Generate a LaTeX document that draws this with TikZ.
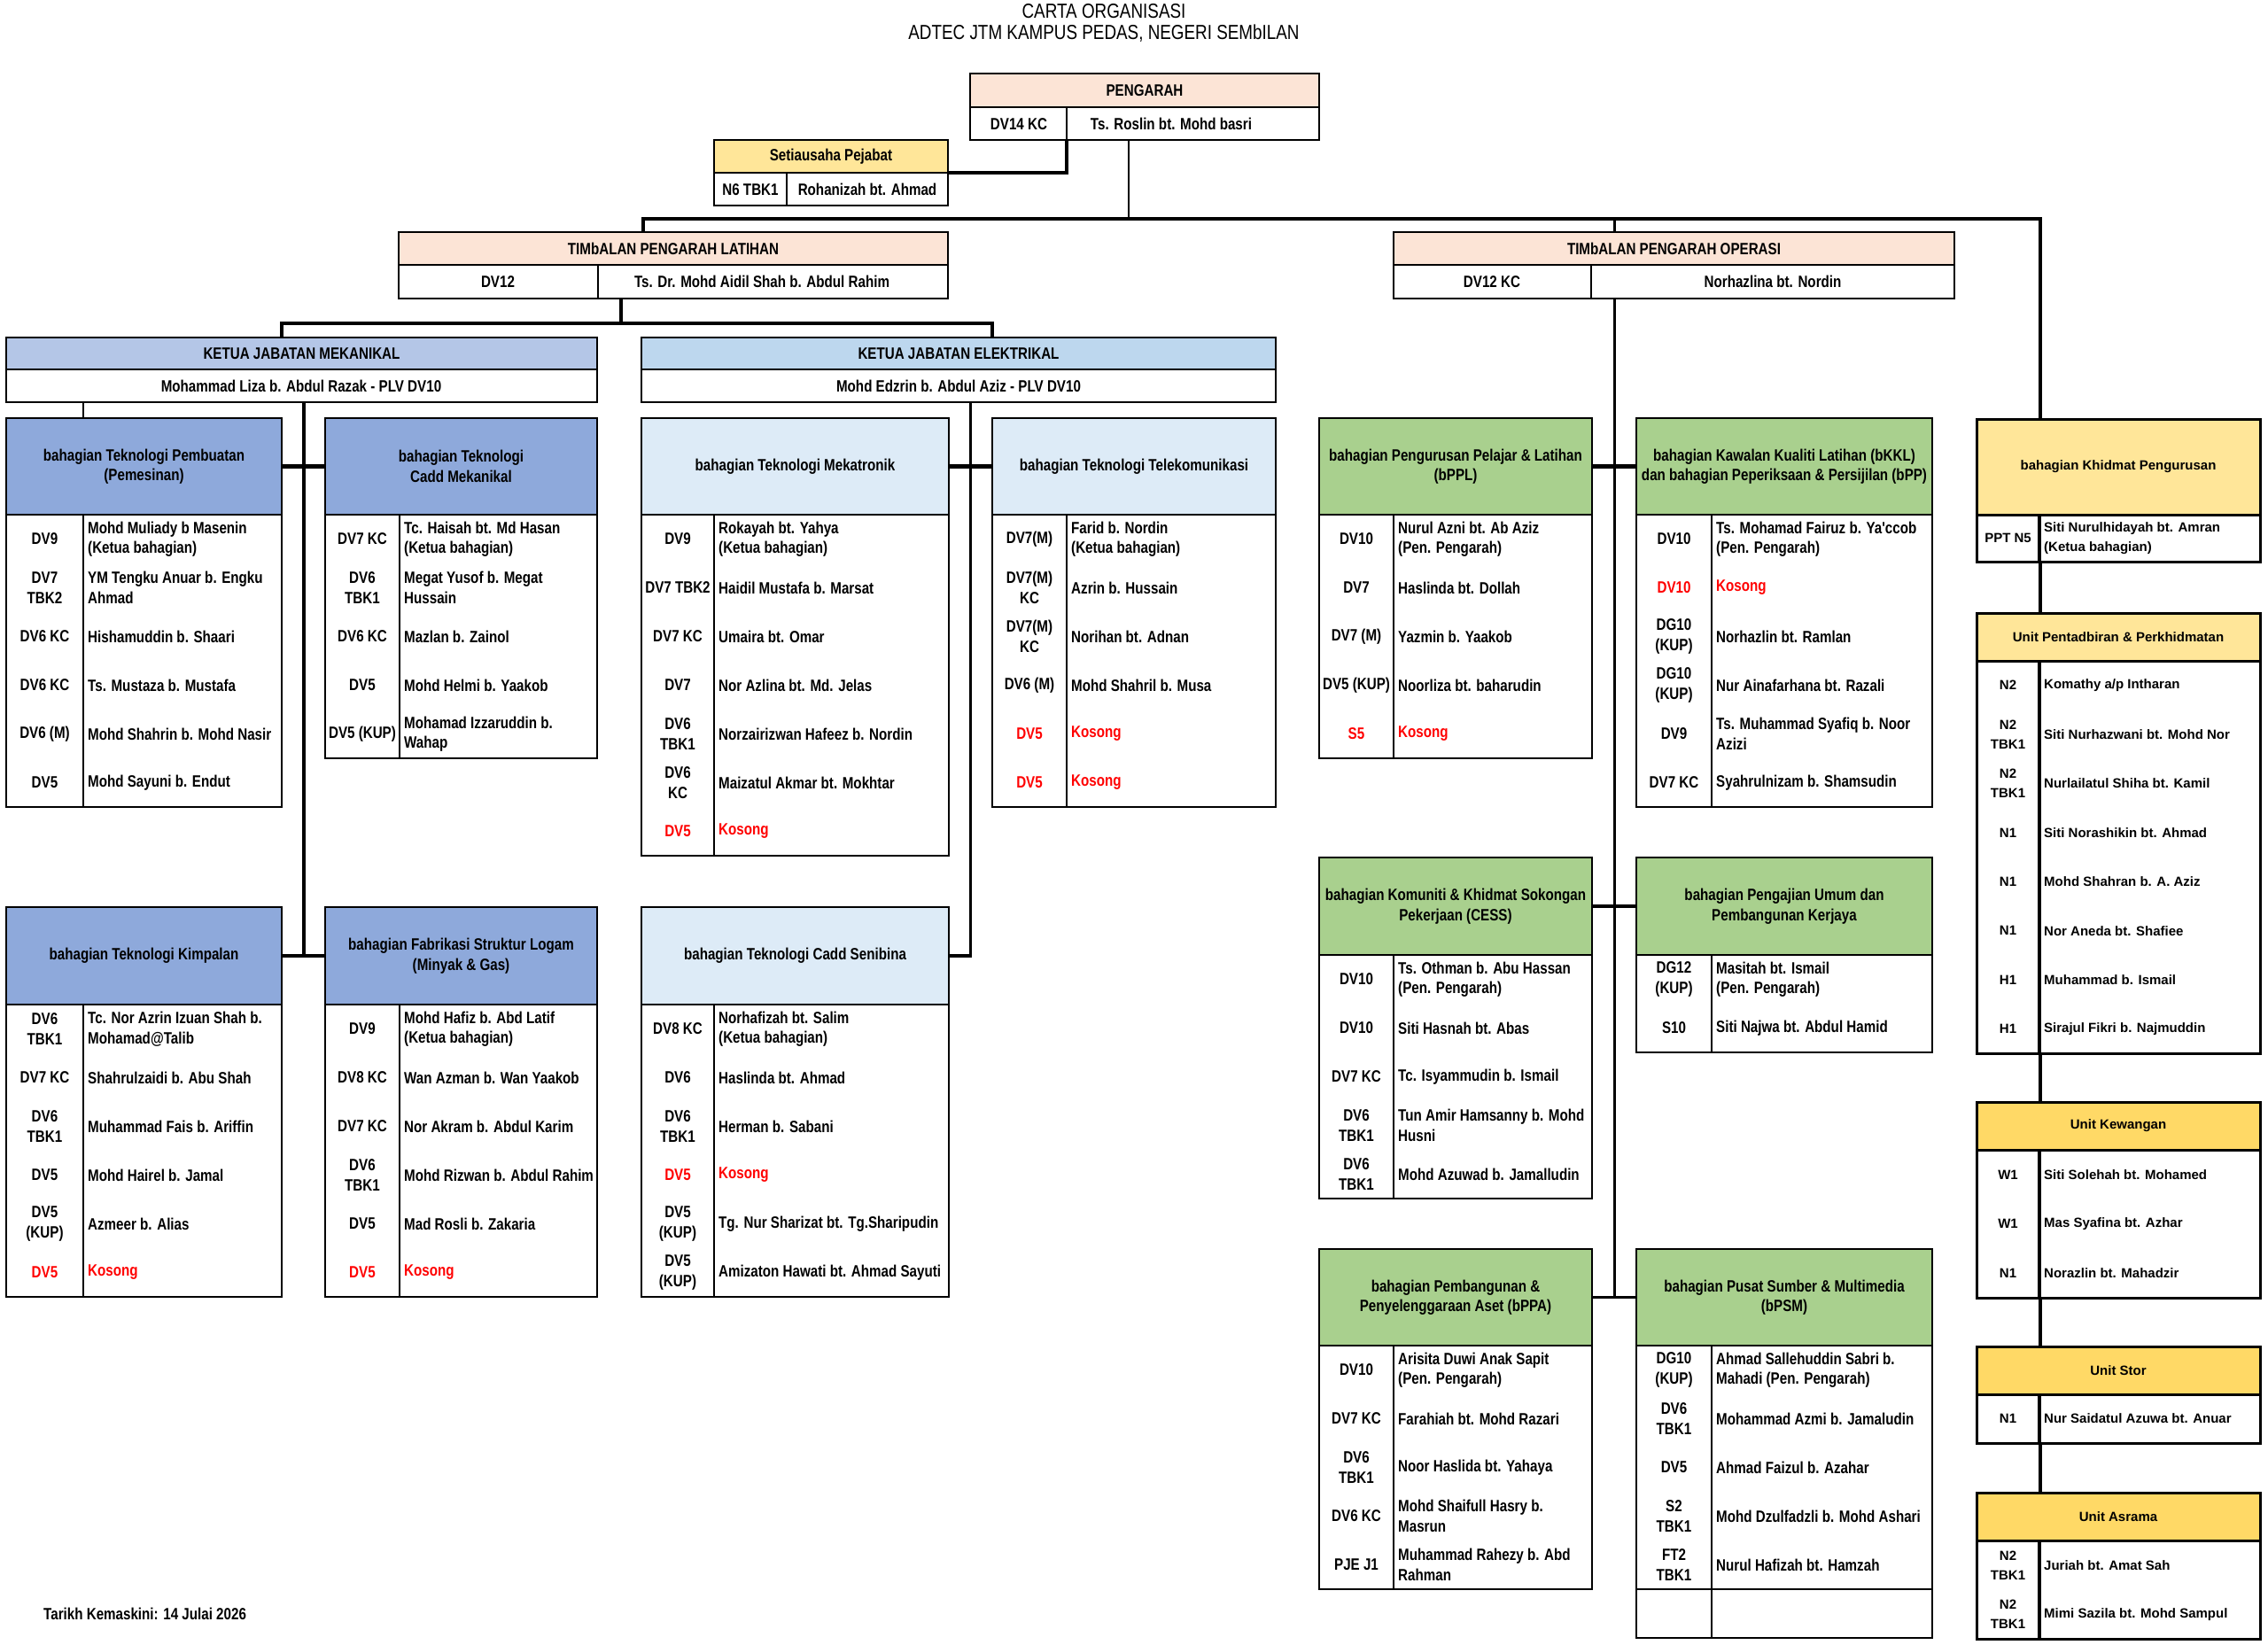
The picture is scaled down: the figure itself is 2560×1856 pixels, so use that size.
\documentclass[tikz,border=0pt]{standalone}
\usepackage{fontspec}
\setmainfont{Liberation Sans}
\newfontfamily\nfont[FakeStretch=0.82]{Liberation Sans}
\newcommand\narrowbold{\nfont\bfseries\fontsize{18.5}{22.5}\selectfont}
\newcommand\widebold{\fontsize{15}{22}\selectfont\bfseries}
\newcommand\titlefont{\nfont\fontsize{23}{25}\selectfont}
\definecolor{peach}{HTML}{FCE4D6}
\definecolor{goldL}{HTML}{FFE699}
\definecolor{goldD}{HTML}{FFD966}
\definecolor{mekJ}{HTML}{B4C6E7}
\definecolor{mekD}{HTML}{8EA9DB}
\definecolor{elJ}{HTML}{BDD7EE}
\definecolor{elD}{HTML}{DDEBF7}
\definecolor{grn}{HTML}{A9D08E}
\definecolor{kred}{HTML}{FF0000}
\newcommand\kos{\color{kred}}
\def\orh{55}
\def\framew{2.6pt}
\def\divw{2.2pt}
\def\hfont{\narrowbold}
\def\cfont{\narrowbold}
\newcommand\orgbox[9]{%
  \pgfmathsetmacro\obw{#4-#2}%
  \pgfmathsetmacro\obh{#5-#3}%
  \pgfmathsetmacro\obf{#7-#3}%
  \fill[white] (#2,#3) rectangle (#4,#7);
  \node[hdrbox,fill=#8,minimum width=\obw pt,minimum height=\obh pt] (#1h) at ({(#2+#4)/2},{(#3+#5)/2}) {#9};
  \ifnum#6>0 \draw[divline] (#6,#5) -- (#6,#7);\fi
  \node[framebox,minimum width=\obw pt,minimum height=\obf pt] (#1) at ({(#2+#4)/2},{(#3+#7)/2}) {};
  \draw[hdrline] (#1h.south west) -- (#1h.south east);
  \xdef\obn{#1}\xdef\obx{#2}\xdef\oby{#5}\xdef\obd{#6}}
\newcommand\orow[3]{%
  \node[codetxt] (\obn c#1) at ({(\obx+\obd)/2},{\oby+(#1-0.5)*\orh}) {#2};
  \node[nametxt] (\obn n#1) at ({\obd+5},{\oby+(#1-0.5)*\orh}) {#3};}
\begin{document}
\begin{tikzpicture}[x=1pt,y=-1pt,
  hdrbox/.style={inner sep=0pt,outer sep=0pt,align=center,font=\hfont},
  framebox/.style={draw,line width=\framew,inner sep=0pt,outer sep=0pt},
  hdrline/.style={line width=\framew},
  divline/.style={line width=\divw},
  codetxt/.style={align=center,font=\cfont,inner sep=0pt},
  nametxt/.style={align=left,anchor=west,font=\cfont,inner sep=0pt},
  celltxt/.style={align=center,font=\cfont,inner sep=0pt},
  conn/.style={line width=4.5pt},
  medconn/.style={line width=3pt},
  thinconn/.style={line width=2pt}]
\useasboundingbox (0,0) rectangle (2560,1856);
\fill[white] (0,0) rectangle (2560,1856);

% titles
\node[font=\titlefont,inner sep=0pt] (title1) at (1246,13) {CARTA ORGANISASI};
\node[font=\titlefont,inner sep=0pt] (title2) at (1246,38) {ADTEC JTM KAMPUS PEDAS, NEGERI SEMbILAN};
\node[font=\narrowbold,anchor=west,inner sep=0pt] (date) at (49,1822) {Tarikh Kemaskini: 14 Julai 2026};

% top boxes
\orgbox{peng}{1095}{83}{1489}{121}{1204}{158}{peach}{PENGARAH}
\node[celltxt] (pengc) at (1150,140) {DV14 KC};
\node[celltxt] (pengn) at (1322,140) {Ts. Roslin bt. Mohd basri};

\orgbox{seti}{806}{158}{1070}{195}{888}{232}{goldL}{Setiausaha Pejabat}
\node[celltxt] (setic) at (847,214) {N6 TBK1};
\node[celltxt] (setin) at (979,214) {Rohanizah bt. Ahmad};

\orgbox{tpl}{450}{262}{1070}{299}{675}{337}{peach}{TIMbALAN PENGARAH LATIHAN}
\node[celltxt] (tplc) at (562,318) {DV12};
\node[celltxt] (tpln) at (860,318) {Ts. Dr. Mohd Aidil Shah b. Abdul Rahim};

\orgbox{tpo}{1573}{262}{2206}{299}{1796}{337}{peach}{TIMbALAN PENGARAH OPERASI}
\node[celltxt] (tpoc) at (1684,318) {DV12 KC};
\node[celltxt] (tpon) at (2001,318) {Norhazlina bt. Nordin};

\orgbox{mek}{7}{381}{674}{417}{0}{454}{mekJ}{KETUA JABATAN MEKANIKAL}
\node[celltxt] (mekn) at (340,436) {Mohammad Liza b. Abdul Razak - PLV DV10};
\orgbox{elek}{724}{381}{1440}{417}{0}{454}{elJ}{KETUA JABATAN ELEKTRIKAL}
\node[celltxt] (elekn) at (1082,436) {Mohd Edzrin b. Abdul Aziz - PLV DV10};

% Mekanikal
\orgbox{pemb}{7}{472}{318}{581}{94}{911}{mekD}{bahagian Teknologi Pembuatan\\(Pemesinan)}
\orow{1}{DV9}{Mohd Muliady b Masenin\\(Ketua bahagian)}
\orow{2}{DV7\\TBK2}{YM Tengku Anuar b. Engku\\Ahmad}
\orow{3}{DV6 KC}{Hishamuddin b. Shaari}
\orow{4}{DV6 KC}{Ts. Mustaza b. Mustafa}
\orow{5}{DV6 (M)}{Mohd Shahrin b. Mohd Nasir}
\orow{6}{DV5}{Mohd Sayuni b. Endut}

\orgbox{cadm}{367}{472}{674}{581}{451}{856}{mekD}{bahagian Teknologi\\Cadd Mekanikal}
\orow{1}{DV7 KC}{Tc. Haisah bt. Md Hasan\\(Ketua bahagian)}
\orow{2}{DV6\\TBK1}{Megat Yusof b. Megat\\Hussain}
\orow{3}{DV6 KC}{Mazlan b. Zainol}
\orow{4}{DV5}{Mohd Helmi b. Yaakob}
\orow{5}{DV5 (KUP)}{Mohamad Izzaruddin b.\\Wahap}

\orgbox{kimp}{7}{1024}{318}{1134}{94}{1464}{mekD}{bahagian Teknologi Kimpalan}
\orow{1}{DV6\\TBK1}{Tc. Nor Azrin Izuan Shah b.\\Mohamad@Talib}
\orow{2}{DV7 KC}{Shahrulzaidi b. Abu Shah}
\orow{3}{DV6\\TBK1}{Muhammad Fais b. Ariffin}
\orow{4}{DV5}{Mohd Hairel b. Jamal}
\orow{5}{DV5\\(KUP)}{Azmeer b. Alias}
\orow{6}{\kos DV5}{\kos Kosong}

\orgbox{fabr}{367}{1024}{674}{1134}{451}{1464}{mekD}{bahagian Fabrikasi Struktur Logam\\(Minyak \& Gas)}
\orow{1}{DV9}{Mohd Hafiz b. Abd Latif\\(Ketua bahagian)}
\orow{2}{DV8 KC}{Wan Azman b. Wan Yaakob}
\orow{3}{DV7 KC}{Nor Akram b. Abdul Karim}
\orow{4}{DV6\\TBK1}{Mohd Rizwan b. Abdul Rahim}
\orow{5}{DV5}{Mad Rosli b. Zakaria}
\orow{6}{\kos DV5}{\kos Kosong}

% Elektrikal
\orgbox{mekt}{724}{472}{1071}{581}{806}{966}{elD}{bahagian Teknologi Mekatronik}
\orow{1}{DV9}{Rokayah bt. Yahya\\(Ketua bahagian)}
\orow{2}{DV7 TBK2}{Haidil Mustafa b. Marsat}
\orow{3}{DV7 KC}{Umaira bt. Omar}
\orow{4}{DV7}{Nor Azlina bt. Md. Jelas}
\orow{5}{DV6\\TBK1}{Norzairizwan Hafeez b. Nordin}
\orow{6}{DV6\\KC}{Maizatul Akmar bt. Mokhtar}
\orow{7}{\kos DV5}{\kos Kosong}

\orgbox{tele}{1120}{472}{1440}{581}{1204}{911}{elD}{bahagian Teknologi Telekomunikasi}
\orow{1}{DV7(M)}{Farid b. Nordin\\(Ketua bahagian)}
\orow{2}{DV7(M)\\KC}{Azrin b. Hussain}
\orow{3}{DV7(M)\\KC}{Norihan bt. Adnan}
\orow{4}{DV6 (M)}{Mohd Shahril b. Musa}
\orow{5}{\kos DV5}{\kos Kosong}
\orow{6}{\kos DV5}{\kos Kosong}

\orgbox{cads}{724}{1024}{1071}{1134}{806}{1464}{elD}{bahagian Teknologi Cadd Senibina}
\orow{1}{DV8 KC}{Norhafizah bt. Salim\\(Ketua bahagian)}
\orow{2}{DV6}{Haslinda bt. Ahmad}
\orow{3}{DV6\\TBK1}{Herman b. Sabani}
\orow{4}{\kos DV5}{\kos Kosong}
\orow{5}{DV5\\(KUP)}{Tg. Nur Sharizat bt. Tg.Sharipudin}
\orow{6}{DV5\\(KUP)}{Amizaton Hawati bt. Ahmad Sayuti}

% Operasi
\orgbox{bppl}{1489}{472}{1797}{581}{1573}{856}{grn}{bahagian Pengurusan Pelajar \& Latihan\\(bPPL)}
\orow{1}{DV10}{Nurul Azni bt. Ab Aziz\\(Pen. Pengarah)}
\orow{2}{DV7}{Haslinda bt. Dollah}
\orow{3}{DV7 (M)}{Yazmin b. Yaakob}
\orow{4}{DV5 (KUP)}{Noorliza bt. baharudin}
\orow{5}{\kos S5}{\kos Kosong}

\orgbox{bkkl}{1847}{472}{2181}{581}{1932}{911}{grn}{bahagian Kawalan Kualiti Latihan (bKKL)\\dan bahagian Peperiksaan \& Persijilan (bPP)}
\orow{1}{DV10}{Ts. Mohamad Fairuz b. Ya'ccob\\(Pen. Pengarah)}
\orow{2}{\kos DV10}{\kos Kosong}
\orow{3}{DG10\\(KUP)}{Norhazlin bt. Ramlan}
\orow{4}{DG10\\(KUP)}{Nur Ainafarhana bt. Razali}
\orow{5}{DV9}{Ts. Muhammad Syafiq b. Noor\\Azizi}
\orow{6}{DV7 KC}{Syahrulnizam b. Shamsudin}

\orgbox{cess}{1489}{968}{1797}{1078}{1573}{1353}{grn}{bahagian Komuniti \& Khidmat Sokongan\\Pekerjaan (CESS)}
\orow{1}{DV10}{Ts. Othman b. Abu Hassan\\(Pen. Pengarah)}
\orow{2}{DV10}{Siti Hasnah bt. Abas}
\orow{3}{DV7 KC}{Tc. Isyammudin b. Ismail}
\orow{4}{DV6\\TBK1}{Tun Amir Hamsanny b. Mohd\\Husni}
\orow{5}{DV6\\TBK1}{Mohd Azuwad b. Jamalludin}

\orgbox{pum}{1847}{968}{2181}{1078}{1932}{1188}{grn}{bahagian Pengajian Umum dan\\Pembangunan Kerjaya}
\orow{1}{DG12\\(KUP)}{Masitah bt. Ismail\\(Pen. Pengarah)}
\orow{2}{S10}{Siti Najwa bt. Abdul Hamid}

\orgbox{bppa}{1489}{1410}{1797}{1519}{1573}{1794}{grn}{bahagian Pembangunan \&\\Penyelenggaraan Aset (bPPA)}
\orow{1}{DV10}{Arisita Duwi Anak Sapit\\(Pen. Pengarah)}
\orow{2}{DV7 KC}{Farahiah bt. Mohd Razari}
\orow{3}{DV6\\TBK1}{Noor Haslida bt. Yahaya}
\orow{4}{DV6 KC}{Mohd Shaifull Hasry b.\\Masrun}
\orow{5}{PJE J1}{Muhammad Rahezy b. Abd\\Rahman}

\orgbox{bpsm}{1847}{1410}{2181}{1519}{1932}{1849}{grn}{bahagian Pusat Sumber \& Multimedia\\(bPSM)}
\orow{1}{DG10\\(KUP)}{Ahmad Sallehuddin Sabri b.\\Mahadi (Pen. Pengarah)}
\orow{2}{DV6\\TBK1}{Mohammad Azmi b. Jamaludin}
\orow{3}{DV5}{Ahmad Faizul b. Azahar}
\orow{4}{S2\\TBK1}{Mohd Dzulfadzli b. Mohd Ashari}
\orow{5}{FT2\\TBK1}{Nurul Hafizah bt. Hamzah}
\coordinate (bpsmrow) at (1932,1794);
\draw[hdrline] (bpsm.west |- bpsmrow) -- (bpsm.east |- bpsmrow);

% right column
\def\hfont{\widebold}\def\cfont{\widebold}\def\framew{3pt}\def\divw{3.4pt}
\def\orh{53}
\orgbox{khid}{2231}{473}{2551}{581}{2302}{634}{goldL}{bahagian Khidmat Pengurusan}
\orow{1}{PPT N5}{Siti Nurulhidayah bt. Amran\\(Ketua bahagian)}
\def\orh{55.4}
\orgbox{pent}{2231}{692}{2551}{746}{2302}{1189}{goldL}{Unit Pentadbiran \& Perkhidmatan}
\orow{1}{N2}{Komathy a/p Intharan}
\orow{2}{N2\\TBK1}{Siti Nurhazwani bt. Mohd Nor}
\orow{3}{N2\\TBK1}{Nurlailatul Shiha bt. Kamil}
\orow{4}{N1}{Siti Norashikin bt. Ahmad}
\orow{5}{N1}{Mohd Shahran b. A. Aziz}
\orow{6}{N1}{Nor Aneda bt. Shafiee}
\orow{7}{H1}{Muhammad b. Ismail}
\orow{8}{H1}{Sirajul Fikri b. Najmuddin}
\def\orh{55.7}
\orgbox{kew}{2231}{1244}{2551}{1298}{2302}{1465}{goldD}{Unit Kewangan}
\orow{1}{W1}{Siti Solehah bt. Mohamed}
\orow{2}{W1}{Mas Syafina bt. Azhar}
\orow{3}{N1}{Norazlin bt. Mahadzir}
\def\orh{55}
\orgbox{stor}{2231}{1520}{2551}{1574}{2302}{1629}{goldD}{Unit Stor}
\orow{1}{N1}{Nur Saidatul Azuwa bt. Anuar}
\def\orh{55.5}
\orgbox{asr}{2231}{1685}{2551}{1739}{2302}{1850}{goldD}{Unit Asrama}
\orow{1}{N2\\TBK1}{Juriah bt. Amat Sah}
\orow{2}{N2\\TBK1}{Mimi Sazila bt. Mohd Sampul}

% connectors
\coordinate (barL) at (726,247);
\coordinate (barR) at (2303,247);
\coordinate (pengdrop) at (1274,247);
\coordinate (opx) at (1822,247);
\coordinate (pengdiv) at (1204,158);
\coordinate (tplx) at (701,365);
\coordinate (mekx) at (318,365);
\coordinate (elex) at (1120,365);
\coordinate (pembdiv) at (94,472);
\coordinate (mekspine) at (343,0);
\coordinate (elspine) at (1095,0);
\coordinate (opspine) at (1822,0);

\draw[thinconn] (peng.south -| pengdrop) -- (pengdrop);
\draw[conn] (tplh.north -| barL) -- (barL) -- (barR) -- (khidh.north -| barR);
\draw[medconn] (opx) -- (tpoh.north -| opx);
\draw[conn] (pengdiv) |- (setih.south east);
\draw[conn] (tpl.south -| tplx) -- (tplx);
\draw[conn] (mekh.north -| mekx) -- (mekx) -- (elex) -- (elekh.north -| elex);
\draw[thinconn] (mek.south -| pembdiv) -- (pembdiv);
\draw[conn] (mek.south -| mekspine) -- (kimph.east -| mekspine);
\draw[conn] (pembh.east) -- (cadmh.west);
\draw[conn] (kimph.east) -- (fabrh.west);
\draw[medconn] (elek.south -| elspine) -- (cadsh.east -| elspine);
\draw[conn] ([xshift=1.5pt]cadsh.east -| elspine) -- (cadsh.east);
\draw[conn] (mekth.east) -- (teleh.west);
\draw[medconn] (tpo.south -| opspine) -- (bppah.east -| opspine);
\draw[conn] (bpplh.east) -- (bkklh.west);
\draw[conn] (cessh.east) -- (pumh.west);
\draw[medconn] (bppah.east) -- (bpsmh.west);
\draw[conn] (khid.south -| barR) -- (penth.north -| barR);
\draw[conn] (pent.south -| barR) -- (kewh.north -| barR);
\draw[conn] (kew.south -| barR) -- (storh.north -| barR);
\draw[conn] (stor.south -| barR) -- (asrh.north -| barR);
\end{tikzpicture}
\end{document}
